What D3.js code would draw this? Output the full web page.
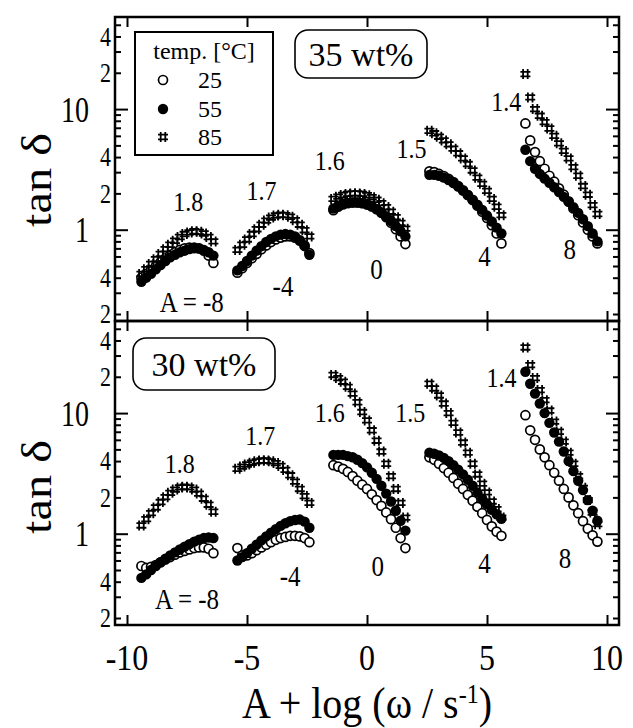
<!DOCTYPE html>
<html lang="en">
<head>
<meta charset="UTF-8">
<title>tan delta master curves</title>
<script src="https://d3js.org/d3.v7.min.js"></script>
<style>
  body { margin: 0; background: #fff; }
  text { font-family: "Liberation Serif", "Times New Roman", serif; fill: #000; }
</style>
</head>
<body>
<svg id="chart" width="633" height="728"></svg>
<script>
// x = A + log(w/s^-1), each group is one shift factor A
const logW = [-1.4, -1.2, -1.0, -0.8, -0.6, -0.4, -0.2, 0, 0.2, 0.4, 0.6, 0.8, 1.0, 1.2, 1.4, 1.6];
const shifts = [-8, -4, 0, 4, 8];
const slopes = ["1.8", "1.7", "1.6", "1.5", "1.4"];
const temps = ["25", "55", "85"];

// 35 wt%, tan delta per group (A = -8, -4, 0, 4, 8)
const t35_25 = [
  [0.40, 0.43, 0.46, 0.50, 0.54, 0.58, 0.62, 0.65, 0.68, 0.70, 0.71, 0.71, 0.70, 0.67, 0.61, 0.53],
  [0.44, 0.48, 0.53, 0.58, 0.63, 0.69, 0.74, 0.79, 0.83, 0.86, 0.88, 0.88, 0.86, 0.81, 0.74, 0.64],
  [1.45, 1.55, 1.62, 1.66, 1.68, 1.68, 1.66, 1.62, 1.56, 1.48, 1.38, 1.27, 1.14, 1.01, 0.88, 0.76],
  [3.05, 3.00, 2.90, 2.78, 2.64, 2.48, 2.30, 2.12, 1.94, 1.76, 1.58, 1.41, 1.25, 1.09, 0.93, 0.77],
  [7.6, 5.5, 4.4, 3.7, 3.2, 2.8, 2.5, 2.2, 1.95, 1.72, 1.50, 1.32, 1.15, 1.00, 0.88, 0.77]
];
const t35_55 = [
  [0.37, 0.40, 0.43, 0.47, 0.51, 0.55, 0.59, 0.62, 0.65, 0.67, 0.69, 0.70, 0.70, 0.68, 0.65, 0.61],
  [0.46, 0.50, 0.55, 0.61, 0.67, 0.73, 0.79, 0.84, 0.88, 0.91, 0.92, 0.91, 0.88, 0.82, 0.73, 0.62],
  [1.50, 1.58, 1.64, 1.67, 1.68, 1.68, 1.66, 1.62, 1.56, 1.48, 1.39, 1.29, 1.18, 1.07, 0.97, 0.88],
  [2.85, 2.85, 2.80, 2.70, 2.58, 2.44, 2.28, 2.11, 1.94, 1.77, 1.61, 1.46, 1.31, 1.17, 1.04, 0.93],
  [4.6, 3.7, 3.2, 2.9, 2.65, 2.45, 2.25, 2.05, 1.87, 1.70, 1.54, 1.38, 1.22, 1.07, 0.93, 0.80]
];
const t35_85 = [
  [0.43, 0.47, 0.52, 0.57, 0.63, 0.69, 0.75, 0.81, 0.87, 0.92, 0.95, 0.97, 0.96, 0.93, 0.87, 0.80],
  [0.68, 0.75, 0.83, 0.92, 1.01, 1.10, 1.19, 1.26, 1.31, 1.33, 1.32, 1.28, 1.20, 1.10, 0.99, 0.88],
  [1.80, 1.88, 1.94, 1.98, 2.00, 2.00, 1.98, 1.93, 1.86, 1.77, 1.66, 1.54, 1.41, 1.27, 1.14, 1.02],
  [6.6, 6.3, 5.9, 5.5, 5.1, 4.7, 4.3, 3.9, 3.5, 3.1, 2.7, 2.4, 2.1, 1.8, 1.55, 1.32],
  [19.5, 12.5, 10.0, 8.8, 7.8, 6.9, 6.0, 5.2, 4.5, 3.9, 3.3, 2.8, 2.3, 1.95, 1.6, 1.35]
];

// 30 wt%
const t30_25 = [
  [0.54, 0.52, 0.53, 0.55, 0.58, 0.61, 0.64, 0.67, 0.70, 0.72, 0.74, 0.76, 0.77, 0.77, 0.75, 0.69],
  [0.76, 0.66, 0.66, 0.69, 0.73, 0.77, 0.81, 0.85, 0.89, 0.92, 0.94, 0.96, 0.96, 0.95, 0.92, 0.85],
  [3.7, 3.6, 3.45, 3.25, 3.0, 2.75, 2.55, 2.35, 2.12, 1.90, 1.70, 1.50, 1.32, 1.12, 0.92, 0.76],
  [4.3, 4.1, 3.8, 3.5, 3.2, 2.9, 2.6, 2.35, 2.1, 1.88, 1.67, 1.48, 1.30, 1.15, 1.04, 0.96],
  [9.6, 7.2, 6.0, 5.0, 4.3, 3.7, 3.2, 2.75, 2.35, 2.0, 1.72, 1.48, 1.27, 1.10, 0.97, 0.86]
];
const t30_55 = [
  [0.43, 0.46, 0.50, 0.54, 0.58, 0.62, 0.66, 0.70, 0.74, 0.78, 0.82, 0.86, 0.89, 0.92, 0.93, 0.92],
  [0.60, 0.64, 0.69, 0.75, 0.81, 0.88, 0.95, 1.02, 1.09, 1.16, 1.22, 1.27, 1.30, 1.31, 1.26, 1.12],
  [4.5, 4.5, 4.5, 4.4, 4.3, 4.1, 3.85, 3.55, 3.2, 2.85, 2.5, 2.15, 1.85, 1.55, 1.28, 1.06],
  [4.7, 4.6, 4.45, 4.25, 4.0, 3.7, 3.4, 3.1, 2.8, 2.5, 2.2, 1.95, 1.75, 1.58, 1.45, 1.33],
  [22, 17.5, 14.5, 12.0, 10.0, 8.3, 6.9, 5.8, 4.8, 4.0, 3.3, 2.75, 2.3, 1.9, 1.55, 1.28]
];
const t30_85 = [
  [1.17, 1.32, 1.48, 1.65, 1.83, 2.01, 2.18, 2.32, 2.42, 2.45, 2.42, 2.32, 2.15, 1.95, 1.74, 1.52],
  [3.45, 3.60, 3.75, 3.88, 3.98, 4.04, 4.04, 3.98, 3.85, 3.65, 3.38, 3.05, 2.70, 2.35, 2.05, 1.80],
  [20.7, 19.5, 18.2, 16.5, 14.5, 12.3, 10.2, 8.7, 7.2, 5.9, 4.8, 3.8, 3.0, 2.35, 1.80, 1.36],
  [17.5, 16.0, 14.0, 12.0, 10.0, 8.3, 6.9, 5.7, 4.7, 3.8, 3.1, 2.6, 2.2, 1.85, 1.6, 1.36],
  [35, 25, 19.5, 15.5, 12.8, 10.5, 8.5, 7.0, 5.8, 4.7, 3.8, 3.0, 2.4, 1.9, 1.5, 1.2]
];

// annotation anchors in data units [x, tan delta]
const slopeAt35 = [[-7.45, 1.72], [-4.4, 2.1], [-1.55, 3.7], [1.85, 4.7], [5.8, 11.6]];
const shiftAt35 = [[-7.3, 0.25], [-3.5, 0.34], [0.4, 0.47], [4.9, 0.61], [8.45, 0.69]];
const slopeAt30 = [[-7.8, 3.8], [-4.45, 6.5], [-1.55, 10], [1.8, 10], [5.6, 19.5]];
const shiftAt30 = [[-7.5, 0.29], [-3.2, 0.45], [0.45, 0.54], [4.9, 0.57], [8.25, 0.63]];

const xTicks = [-10, -5, 0, 5, 10];
const yMajor = [1, 10];
const yLabeled = [0.2, 0.4, 2, 4, 20, 40];
const yMinor = [0.2, 0.3, 0.4, 0.5, 0.6, 0.7, 0.8, 0.9, 2, 3, 4, 5, 6, 7, 8, 9, 20, 30, 40, 50];

const svg = d3.select('#chart');
const left = 115, right = 619, panelH = 304;
const x = d3.scaleLinear().domain([-10.5, 10.5]).range([left, right]);

// text helper, k stretches glyphs vertically like the scanned original
function label(g, px, py, str, size, k, anchor) {
  return g.append('text')
    .attr('transform', `translate(${px},${py}) scale(1,${k})`)
    .attr('font-size', size)
    .attr('text-anchor', anchor || 'middle')
    .attr('dy', '0.35em')
    .text(str);
}

const hash = 'M-2.3,-5V5M2.3,-5V5M-5,-2.3H5M-5,2.3H5';

function drawSymbol(g, kind, px, py) {
  if (kind === '25') {
    g.append('circle').attr('cx', px).attr('cy', py).attr('r', 4.5)
      .attr('fill', '#fff').attr('stroke', '#000').attr('stroke-width', 1.7);
  } else if (kind === '55') {
    g.append('circle').attr('cx', px).attr('cy', py).attr('r', 5.2).attr('fill', '#000');
  } else {
    g.append('path').attr('d', hash).attr('transform', `translate(${px},${py})`)
      .attr('fill', 'none').attr('stroke', '#000').attr('stroke-width', 1.8);
  }
}

const panels = [
  { top: 17, series: [t35_25, t35_55, t35_85], tag: '35 wt%', tagBox: [295, 30, 132, 48],
    slopeAt: slopeAt35, shiftAt: shiftAt35, legend: true, yTitle: 180 },
  { top: 17 + panelH, series: [t30_25, t30_55, t30_85], tag: '30 wt%', tagBox: [133, 338, 142, 52],
    slopeAt: slopeAt30, shiftAt: shiftAt30, legend: false, yTitle: 487 }
];

panels.forEach((p, pi) => {
  const bottom = p.top + panelH;
  const y = d3.scaleLog().domain([0.175, 58]).range([bottom, p.top]);
  const g = svg.append('g');

  // data: open first, filled over it, # on top
  p.series.forEach((s, ti) => {
    s.forEach((vals, gi) => {
      vals.forEach((v, i) => drawSymbol(g, temps[ti], x(shifts[gi] + logW[i]), y(v)));
    });
  });

  // ticks, all pointing inward
  const tick = (axis, tx, ty) => g.append('g').attr('transform', `translate(${tx},${ty})`)
    .call(axis.tickFormat(''))
    .call(a => a.select('.domain').remove())
    .call(a => a.selectAll('line').attr('stroke-width', 2));
  tick(d3.axisLeft(y).tickValues(yMajor).tickSize(-13), left, 0);
  tick(d3.axisLeft(y).tickValues(yMinor).tickSize(-6), left, 0);
  tick(d3.axisRight(y).tickValues(yMajor).tickSize(-13), right, 0);
  tick(d3.axisRight(y).tickValues(yMinor).tickSize(-6), right, 0);
  tick(d3.axisBottom(x).tickValues(xTicks).tickSize(-10), 0, bottom);
  tick(d3.axisTop(x).tickValues(xTicks).tickSize(-10), 0, p.top);

  // y tick labels: decades set off, 2 and 4 tight to the axis
  yMajor.forEach(v => label(g, left - 26, y(v), String(v), 28, 1.3, 'end'));
  yLabeled.forEach(v => {
    const m = Math.round(v / Math.pow(10, Math.floor(Math.log10(v) + 1e-9)));
    label(g, left - 4, y(v), String(m), 22, 1.2, 'end');
  });

  // frame
  g.append('rect').attr('x', left).attr('y', p.top).attr('width', right - left).attr('height', panelH)
    .attr('fill', 'none').attr('stroke', '#000').attr('stroke-width', 2.5);

  // slope and shift annotations
  p.slopeAt.forEach((d, i) => label(g, x(d[0]), y(d[1]), slopes[i], 24, 1.1));
  p.shiftAt.forEach((d, i) => label(g, x(d[0]), y(d[1]), i === 0 ? 'A = -8' : String(shifts[i]), 25, 1.15));

  // concentration tag
  const b = p.tagBox;
  g.append('rect').attr('x', b[0]).attr('y', b[1]).attr('width', b[2]).attr('height', b[3])
    .attr('rx', 13).attr('fill', '#fff').attr('stroke', '#000').attr('stroke-width', 1.6);
  label(g, b[0] + b[2] / 2, b[1] + b[3] / 2, p.tag, 34, 1.0);

  // y title
  g.append('text')
    .attr('transform', `translate(36,${p.yTitle}) rotate(-90) scale(1.15,1)`)
    .attr('font-size', 42).attr('text-anchor', 'middle').attr('dy', '0.35em')
    .text('tan δ');

  if (p.legend) {
    g.append('rect').attr('x', 135).attr('y', 32).attr('width', 138).attr('height', 123)
      .attr('fill', '#fff').attr('stroke', '#000').attr('stroke-width', 2);
    label(g, 204, 51, 'temp. [°C]', 24, 1.0);
    [80, 109, 137].forEach((ly, i) => {
      drawSymbol(g, temps[i], 163, ly);
      label(g, 198, ly, temps[i], 24, 1.0, 'start');
    });
  }

  if (pi === 1) {
    xTicks.forEach(v => label(g, x(v), bottom + 33, String(v), 32, 1.1));
  }
});

// x title
const xt = svg.append('text')
  .attr('transform', `translate(${x(0)},718) scale(1,1.1)`)
  .attr('font-size', 40).attr('text-anchor', 'middle');
xt.append('tspan').text('A + log (ω / s');
xt.append('tspan').attr('font-size', 24).attr('baseline-shift', '55%').text('-1');
xt.append('tspan').text(')');
</script>
</body>
</html>
